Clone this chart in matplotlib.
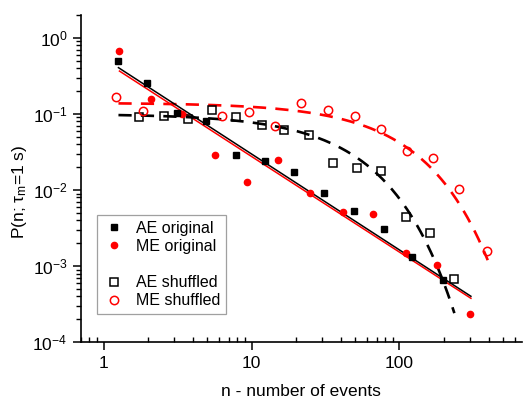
import numpy as np
import matplotlib
matplotlib.use("Agg")
import matplotlib.pyplot as plt
from matplotlib.lines import Line2D
from matplotlib.ticker import LogLocator, NullFormatter, FixedLocator, FixedFormatter

plt.rcParams['font.family'] = ['Liberation Sans', 'DejaVu Sans']
plt.rcParams['mathtext.fontset'] = 'custom'
plt.rcParams['mathtext.rm'] = 'Liberation Sans'
plt.rcParams['mathtext.it'] = 'Liberation Sans:italic'

# --- data ---
ae_orig_n = [1.26, 1.97, 3.13, 4.94, 7.85, 12.4, 19.5, 31, 48.9, 78, 122, 196]
ae_orig_p = [0.50, 0.256, 0.102, 0.0817, 0.0288, 0.0243, 0.0174, 0.0093, 0.0053, 0.0031, 0.00132, 0.00065]

me_orig_n = [1.28, 2.09, 3.39, 5.66, 9.3, 15.2, 24.9, 41.4, 66.7, 111, 179, 300]
me_orig_p = [0.68, 0.157, 0.10, 0.0288, 0.0126, 0.0248, 0.0093, 0.0052, 0.0048, 0.0015, 0.00103, 0.000233]

ae_shuf_n = [1.74, 2.54, 3.7, 5.4, 7.88, 11.8, 16.6, 24.3, 35.5, 51.8, 75.5, 110, 161, 232]
ae_shuf_p = [0.0906, 0.094, 0.086, 0.113, 0.092, 0.071, 0.061, 0.053, 0.0224, 0.0193, 0.0178, 0.0044, 0.00277, 0.00068]

me_shuf_n = [1.22, 1.85, 6.34, 9.55, 14.4, 21.7, 32.8, 49.7, 74.9, 112, 169, 254, 389]
me_shuf_p = [0.166, 0.109, 0.095, 0.107, 0.070, 0.141, 0.113, 0.095, 0.063, 0.0329, 0.0261, 0.0102, 0.00157]

x_ticks = [1, 10, 100]
x_tick_labels = ['1', '10', '100']

# power-law fits P = A * n^-b  (original data)
ae_pl_amp, ae_pl_exp, ae_pl_range = 0.544, 1.261, (1.26, 304)
me_pl_amp, me_pl_exp, me_pl_range = 0.50, 1.257, (1.28, 304)
# exponential fits P = A * exp(-n/n0)  (shuffled data)
ae_ex_amp, ae_ex_n0, ae_ex_range = 0.10, 39.0, (1.26, 235)
me_ex_amp, me_ex_n0, me_ex_range = 0.14, 83.0, (1.26, 395)

fig = plt.figure(figsize=(5.23, 3.99), dpi=100)
ax = fig.add_axes([0.1543, 0.1421, 0.8432, 0.8203])

red = '#ff0000'

def grid(r):
    return np.logspace(np.log10(r[0]), np.log10(r[1]), 200)

n1 = grid(ae_pl_range)
ax.plot(n1, ae_pl_amp * n1 ** (-ae_pl_exp), color='black', lw=1.1, zorder=3)
n2 = grid(me_pl_range)
ax.plot(n2, me_pl_amp * n2 ** (-me_pl_exp), color=red, lw=1.1, zorder=2)
n3 = grid(ae_ex_range)
ax.plot(n3, ae_ex_amp * np.exp(-n3 / ae_ex_n0), color='black', lw=1.9,
        dashes=(5, 3.5), zorder=2)
n4 = grid(me_ex_range)
ax.plot(n4, me_ex_amp * np.exp(-n4 / me_ex_n0), color=red, lw=1.9,
        dashes=(5, 3.5), zorder=2)

ax.plot(ae_shuf_n, ae_shuf_p, 's', ms=5.5, mfc='none', mec='black', mew=1.1,
        ls='none', zorder=4)
ax.plot(me_shuf_n, me_shuf_p, 'o', ms=6, mfc='none', mec=red, mew=1.1,
        ls='none', zorder=4)
ax.plot(me_orig_n, me_orig_p, 'o', ms=4.5, color=red, ls='none', zorder=5)
ax.plot(ae_orig_n, ae_orig_p, 's', ms=4, color='black', ls='none', zorder=6)

ax.set_xscale('log')
ax.set_yscale('log')
ax.set_xlim(0.7, 670)
ax.set_ylim(1e-4, 2)

for s in ['top', 'right']:
    ax.spines[s].set_visible(False)
ax.spines['left'].set_linewidth(1.2)
ax.spines['bottom'].set_linewidth(1.2)

ax.xaxis.set_major_locator(FixedLocator(x_ticks))
ax.xaxis.set_major_formatter(FixedFormatter(x_tick_labels))
ax.yaxis.set_major_locator(LogLocator(base=10, numticks=10))
ax.yaxis.set_minor_locator(LogLocator(base=10, subs=np.arange(2, 10), numticks=10))
ax.yaxis.set_minor_formatter(NullFormatter())
ax.xaxis.set_minor_formatter(NullFormatter())
ax.tick_params(axis='both', which='major', labelsize=12.5, length=6, width=1.1, direction='out')
ax.tick_params(axis='both', which='minor', length=3.5, width=1.0, direction='out')
ax.tick_params(axis='x', which='minor', direction='in')
ax.tick_params(axis='x', which='major', pad=4)

ax.set_xlabel('n - number of events', fontsize=12.5, labelpad=9)
ax.set_ylabel('P(n; τ$_{\\rm m}$=1 s)', fontsize=12.5)
ax.yaxis.set_label_coords(-0.117, 0.46)

handles = [
    Line2D([], [], marker='s', ms=4, color='black', ls='none'),
    Line2D([], [], marker='o', ms=4.5, color=red, ls='none'),
    Line2D([], [], ls='none'),
    Line2D([], [], marker='s', ms=5.5, mfc='none', mec='black', mew=1.1, ls='none'),
    Line2D([], [], marker='o', ms=6, mfc='none', mec=red, mew=1.1, ls='none'),
]
labels = ['AE original', 'ME original', ' ', 'AE shuffled', 'ME shuffled']
leg = ax.legend(handles, labels, loc='upper left', bbox_to_anchor=(0.036, 0.389),
                fontsize=11.5, frameon=True, fancybox=False, borderpad=0.35,
                labelspacing=0.2, handletextpad=0.6, handlelength=1.5,
                borderaxespad=0)
leg.get_frame().set_edgecolor('#888888')
leg.get_frame().set_linewidth(0.9)

fig.savefig('out.png', dpi=100)
